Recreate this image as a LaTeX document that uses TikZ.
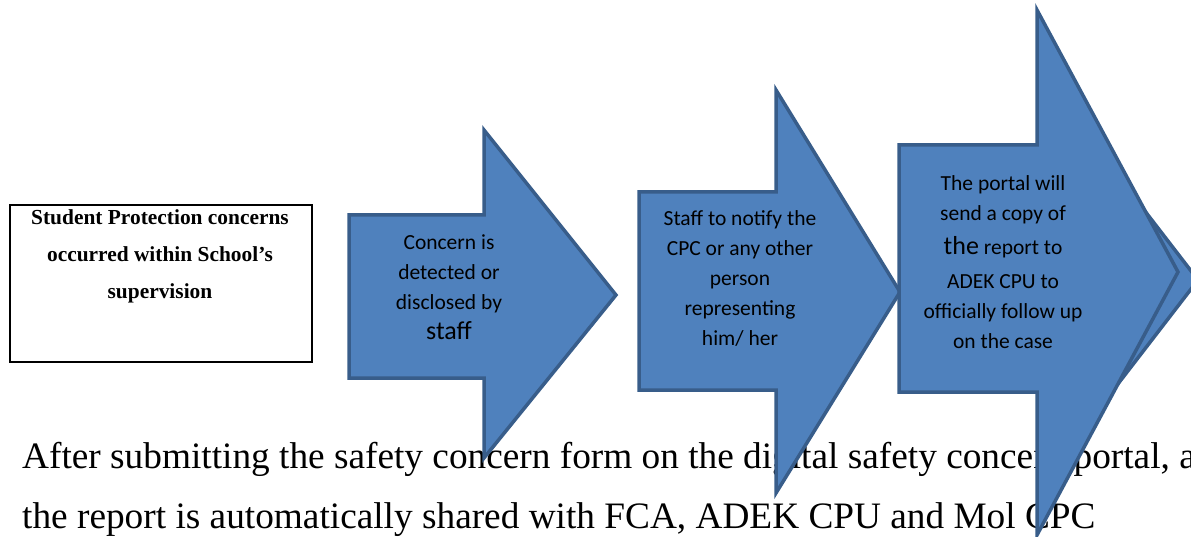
\documentclass[tikz,border=0pt]{standalone}
\usepackage{fontspec}
\setmainfont{Liberation Serif}
\newfontfamily\calib{Carlito}
\tikzset{
  flowarrow/.style={fill=arrowfill, draw=arrowline, line width=3.5pt, line join=miter},
  arrowtext/.style={align=center, inner sep=0pt, font=\calib\fontsize{21.5}{30}\selectfont},
  paratext/.style={anchor=base west, inner sep=0pt, font=\fontsize{37.3}{40}\selectfont},
}
\definecolor{arrowfill}{HTML}{4F81BD}
\definecolor{arrowline}{HTML}{385D8A}
\begin{document}
\begin{tikzpicture}[x=1pt,y=-1pt]
\useasboundingbox (0,0) rectangle (1191,537);
% paragraph text (behind the arrows)
\node[paratext] (para1) at (22,468) {After submitting the safety concern form on the digital safety concern portal, a};
\node[paratext] (para2) at (22,528) {the report is automatically shared with FCA, ADEK CPU and Mol CPC};
% start box
\node[draw=black, line width=2pt, minimum width=302pt, minimum height=157pt, anchor=north west, inner sep=0pt] (box) at (9,204) {};
\node[align=center, inner sep=0pt, font=\bfseries\fontsize{21.4}{37}\selectfont, anchor=north] (boxtext) at (160,209)
  {Student Protection concerns\\occurred within School's\\supervision};
% arrow 1
\draw[flowarrow] (349,215) -- (484,215) -- (484,130) -- (616,295) -- (484,458) -- (484,378) -- (349,378) -- cycle;
\node[arrowtext] (a1) at (449,287) {Concern is\\detected or\\disclosed by\\{\fontsize{26}{30}\selectfont staff}};
% arrow 2
\draw[flowarrow] (639,192) -- (776,192) -- (776,90) -- (900,292) -- (776,493) -- (776,390) -- (639,390) -- cycle;
\node[arrowtext] (a2) at (740,278) {Staff to notify the\\CPC or any other\\person\\representing\\him/ her};
% arrow 4 (mostly hidden, behind arrow 3)
\draw[flowarrow] (960,165) -- (1040,165) -- (1040,75) -- (1198,280) -- (1040,485) -- (1040,380) -- (960,380) -- cycle;
% arrow 3
\draw[flowarrow] (899,145) -- (1037,145) -- (1037,10) -- (1178,272) -- (1037,535) -- (1037,392) -- (899,392) -- cycle;
\node[arrowtext] (a3) at (1003,262) {The portal will\\send a copy of\\[4pt]{\fontsize{26}{30}\selectfont the} report to\\[4pt]ADEK CPU to\\officially follow up\\on the case};
\end{tikzpicture}
\end{document}
